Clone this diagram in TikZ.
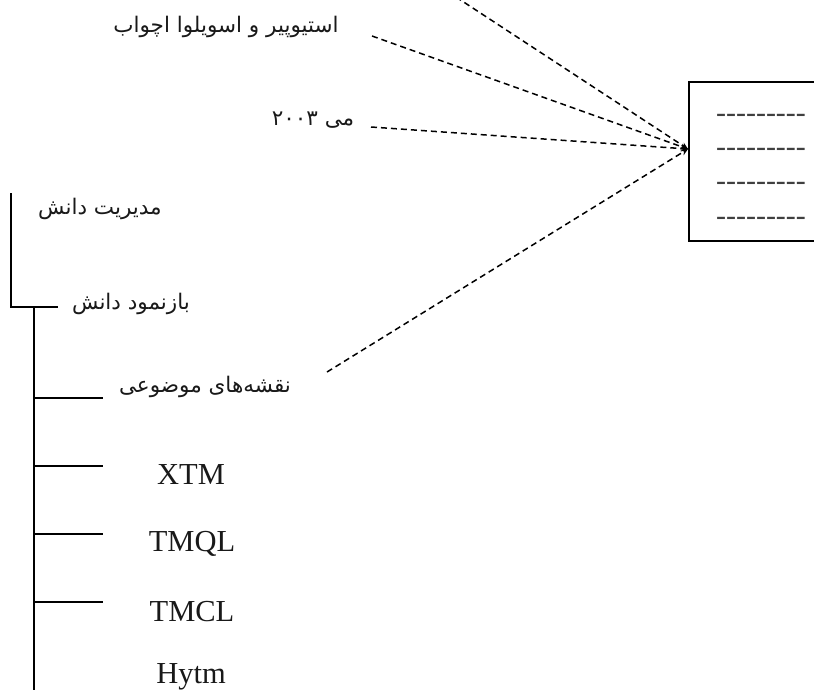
\documentclass[tikz,border=0pt]{standalone}
\usepackage{fontspec}
\setmainfont{Liberation Serif}
\newfontfamily\fafont[Script=Arabic]{DejaVu Sans}
\TeXXeTstate=1
\usetikzlibrary{arrows.meta}
\newcommand\hyx{\hbox{-}}
\newcommand\hyrow{\hyx\hyx\hyx\hyx\hyx\hyx\hyx\hyx\hyx}
\begin{document}
\begin{tikzpicture}[x=1pt,y=-1pt,
  tree/.style={line width=1.5pt,line cap=rect},
  link/.style={line width=1.5pt,dash pattern=on 6pt off 4pt,-{Stealth[length=7pt,width=6pt]}},
  fa/.style={font=\fafont\fontsize{21.5}{26}\selectfont,inner sep=0pt,text=black!90},
  lat/.style={font=\fontsize{30.5}{34}\selectfont,inner sep=0pt,text=black!90},
  hyph/.style={font=\fontsize{30}{34}\selectfont,inner sep=0pt,text=black!75}]
\useasboundingbox (0,0) rectangle (814,689);
\clip (0,0) rectangle (814,689);
% right box
\node[draw,line width=1.6pt,minimum width=160pt,minimum height=159pt,anchor=north west,inner sep=0pt] (box) at (688,81) {};
\node[hyph] (h1) at (761,118) {\hyrow};
\node[hyph] (h2) at (761,152) {\hyrow};
\node[hyph] (h3) at (761,186) {\hyrow};
\node[hyph] (h4) at (761,221) {\hyrow};
% texts
\node[fa] (t1) at (226,27) {\beginR استیوپیر و اسویلوا اچواب\endR};
\node[fa] (t2) at (313,120) {\beginR می \beginL۲۰۰۳\endL\endR};
\node[fa] (km) at (100,209) {\beginR مدیریت دانش\endR};
\node[fa] (kr) at (131,304) {\beginR بازنمود دانش\endR};
\node[fa] (tm) at (205,387) {\beginR نقشه‌های موضوعی\endR};
\node[lat] (xtm) at (191,475) {XTM};
\node[lat] (tmql) at (192,544) {TMQL};
\node[lat] (tmcl) at (192,612) {TMCL};
\node[lat] (hytm) at (191,677) {Hytm};
% tree
\coordinate (r0) at (11,194);
\coordinate (r1) at (11,307);
\coordinate (r2) at (57,307);
\coordinate (s0) at (34,307);
\coordinate (s1) at (34,700);
\draw[tree] (r0) -- (r1) -- (r2);
\draw[tree] (s0) -- (s1);
\foreach \yy/\nm in {398/tmq,466/xtq,534/qlq,602/clq}{
  \coordinate (\nm a) at (34,\yy);
  \coordinate (\nm b) at (102,\yy);
  \draw[tree] (\nm a) -- (\nm b);
}
% links
\coordinate (tip) at (688,149);
\coordinate (c1) at (456,-3);
\coordinate (c2) at (372,36);
\coordinate (c3) at (371,127);
\coordinate (c4) at (327,372);
\draw[link] (c1) -- (tip);
\draw[link] (c2) -- (tip);
\draw[link] (c3) -- (tip);
\draw[link] (c4) -- (tip);
\end{tikzpicture}
\end{document}
